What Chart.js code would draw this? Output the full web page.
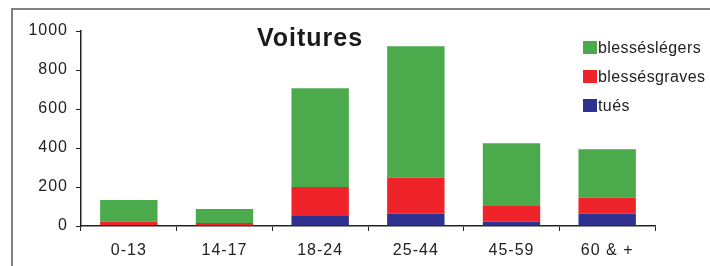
<!DOCTYPE html>
<html lang="fr">
<head>
  <meta charset="UTF-8" />
  <title>Voitures</title>
  <script src="https://cdn.jsdelivr.net/npm/chart.js"></script>
  <style>
    html, body { margin: 0; padding: 0; background: #fff; }
    canvas { display: block; }
  </style>
</head>
<body>
  <canvas id="chart" width="710" height="266"></canvas>

  <script>
    const categories = ['0-13', '14-17', '18-24', '25-44', '45-59', '60 & +'];
    const tues = [5, 2, 51, 63, 22, 63];
    const graves = [17, 13, 149, 184, 85, 82];
    const legers = [111, 72, 507, 675, 318, 249];
    const yTicks = [0, 200, 400, 600, 800, 1000];

    const labelsText = ['tués', 'blessésgraves', 'blesséslégers'];
    const colors = ['#2E3190', '#EE242A', '#4BAA4B'];

    // frame, spaced text, title and legend drawn by hand
    const decor = {
      id: 'decor',
      beforeDraw(chart) {
        const ctx = chart.ctx;
        ctx.save();
        ctx.fillStyle = '#fff';
        ctx.fillRect(0, 0, chart.width, chart.height);
        ctx.strokeStyle = '#808080';
        ctx.lineWidth = 2;
        ctx.strokeRect(12, 9, 760, 320);
        ctx.restore();
        ctx.letterSpacing = '1px';
      },
      afterDraw(chart) {
        const ctx = chart.ctx;
        ctx.save();
        ctx.letterSpacing = '1px';
        ctx.fillStyle = '#1a1a1a';
        ctx.font = 'bold 25px "Liberation Sans", Arial, sans-serif';
        ctx.textAlign = 'center';
        ctx.textBaseline = 'alphabetic';
        ctx.fillText('Voitures', 310, 46);

        ctx.letterSpacing = '0.4px';
        ctx.font = '16px "Liberation Sans", Arial, sans-serif';
        ctx.textAlign = 'left';
        const ds = chart.data.datasets.slice().reverse();
        ds.forEach((d, i) => {
          const y = 41 + i * 29;
          ctx.fillStyle = d.backgroundColor;
          ctx.fillRect(583, y, 14, 13);
          ctx.fillStyle = '#222';
          ctx.fillText(d.label, 598, y + 12);
        });
        ctx.restore();
      }
    };

    new Chart(document.getElementById('chart'), {
      type: 'bar',
      data: {
        labels: categories,
        datasets: [
          { label: labelsText[0], data: tues, backgroundColor: colors[0] },
          { label: labelsText[1], data: graves, backgroundColor: colors[1] },
          { label: labelsText[2], data: legers, backgroundColor: colors[2] }
        ]
      },
      options: {
        responsive: false,
        animation: false,
        layout: { padding: { top: 31, right: 55, bottom: 0, left: 0 } },
        datasets: { bar: { categoryPercentage: 0.6, barPercentage: 1.0, borderWidth: 0 } },
        plugins: { legend: { display: false }, title: { display: false }, tooltip: { enabled: false } },
        scales: {
          x: {
            stacked: true,
            afterFit: s => { s.height = 40; },
            grid: { drawOnChartArea: false, drawTicks: true, tickLength: 5, color: '#222', offset: true },
            border: { color: '#222', width: 1.5 },
            ticks: { color: '#222', padding: 10, font: { size: 16, family: '"Liberation Sans", Arial, sans-serif' } }
          },
          y: {
            stacked: true,
            min: yTicks[0],
            max: yTicks[yTicks.length - 1],
            afterFit: s => { s.width = 81; },
            afterBuildTicks: s => { s.ticks = yTicks.map(v => ({ value: v })); },
            grid: { drawOnChartArea: false, drawTicks: true, tickLength: 5, color: '#222' },
            border: { color: '#222', width: 1.5 },
            ticks: {
              color: '#222', padding: 8,
              font: { size: 16, family: '"Liberation Sans", Arial, sans-serif' },
              callback: v => String(v)
            }
          }
        }
      },
      plugins: [decor]
    });
  </script>
</body>
</html>
